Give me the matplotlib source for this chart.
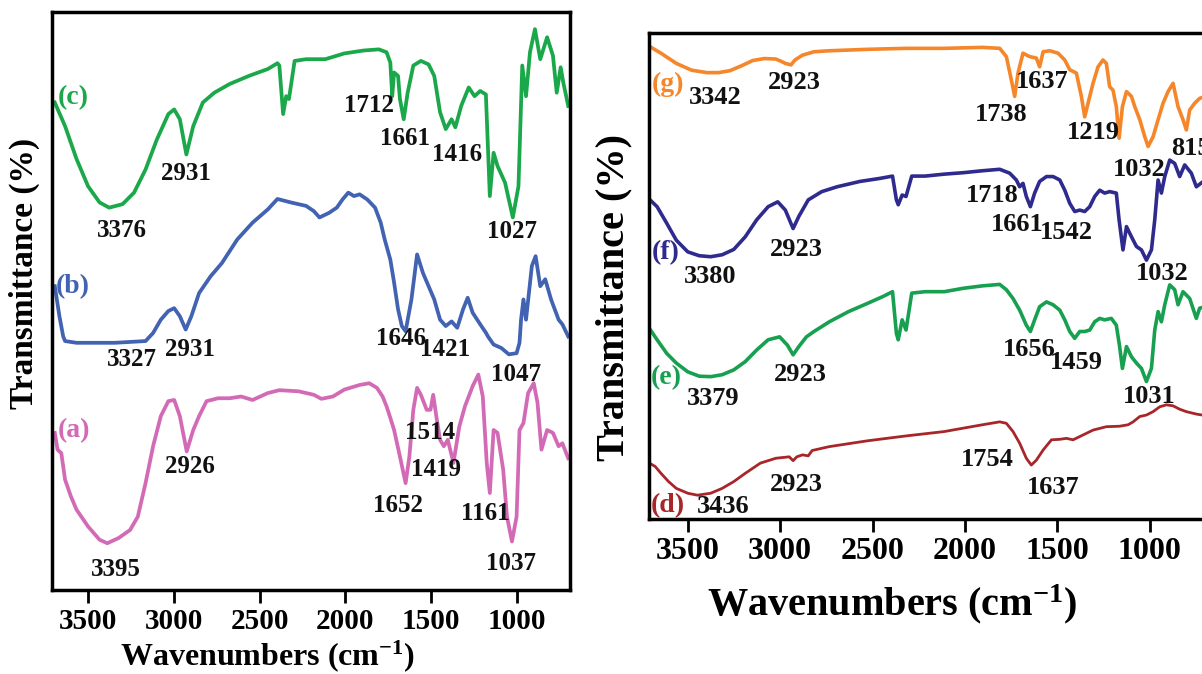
import matplotlib.pyplot as plt

plt.rcParams['font.family'] = ['Liberation Serif', 'DejaVu Serif']
plt.rcParams['font.weight'] = 'bold'
plt.rcParams['axes.labelweight'] = 'bold'
plt.rcParams['mathtext.fontset'] = 'custom'
plt.rcParams['mathtext.rm'] = 'Liberation Serif:bold'
plt.rcParams['mathtext.bf'] = 'Liberation Serif:bold'
plt.rcParams['mathtext.default'] = 'bf'

# ---- left panel spectra: wavenumber (cm-1) / transmittance (a.u.) ----
c_wn = [3694, 3634, 3567, 3500, 3433, 3377, 3299, 3232, 3165, 3099, 3032, 2998, 2965, 2927, 2887, 2831, 2764,
        2675, 2563, 2452, 2396, 2385, 2363, 2345, 2329, 2296, 2229, 2117, 2006, 1894, 1805, 1760, 1738, 1727,
        1716, 1693, 1682, 1660, 1637, 1604, 1560, 1515, 1482, 1448, 1415, 1381, 1359, 1325, 1281, 1247, 1214,
        1181, 1158, 1136, 1113, 1069, 1024, 991, 969, 947, 924, 895, 864, 824, 790, 768, 745, 730, 701]
c_T = [84.4, 80.3, 74.6, 69.9, 67.1, 66.2, 66.8, 68.8, 72.8, 78.0, 82.4, 83.2, 81.5, 75.4, 80.3, 84.4, 86.1,
       87.6, 89.0, 90.2, 91.2, 90.8, 82.4, 85.5, 85.0, 91.6, 91.9, 91.9, 92.9, 93.4, 93.6, 93.1, 91.3, 85.5,
       89.6, 89.0, 85.0, 81.5, 86.1, 90.8, 91.6, 91.0, 89.0, 82.7, 79.8, 81.5, 80.1, 83.8, 87.0, 85.5, 86.4,
       85.8, 68.2, 75.7, 73.4, 70.5, 64.5, 69.9, 90.8, 85.5, 93.1, 97.1, 91.9, 95.7, 92.5, 86.1, 90.5, 87.9, 83.8]

b_wn = [3694, 3667, 3645, 3634, 3567, 3344, 3165, 3121, 3076, 3032, 2998, 2965, 2931, 2898, 2853, 2786, 2720,
        2630, 2541, 2452, 2396, 2318, 2229, 2184, 2151, 2095, 2050, 2017, 1983, 1950, 1917, 1872, 1827, 1794,
        1771, 1738, 1716, 1693, 1671, 1649, 1615, 1582, 1548, 1515, 1482, 1448, 1415, 1381, 1348, 1314, 1287,
        1258, 1214, 1180, 1169, 1136, 1091, 1047, 1002, 985, 976, 962, 947, 913, 891, 864, 835, 801, 757, 735, 701]
b_T = [52.6, 47.4, 43.9, 43.1, 42.8, 42.8, 43.1, 44.5, 46.8, 48.3, 48.8, 47.4, 45.1, 47.4, 51.4, 54.3, 56.6,
       60.7, 63.6, 65.9, 67.7, 67.1, 66.5, 65.6, 64.5, 65.3, 66.2, 67.6, 68.8, 68.2, 68.5, 67.6, 66.2, 63.6,
       60.7, 57.2, 53.2, 48.6, 45.7, 44.8, 50.3, 58.1, 54.9, 52.6, 50.3, 46.8, 45.7, 46.5, 45.4, 48.6, 50.6,
       48.0, 46.0, 44.5, 43.9, 42.5, 41.9, 40.8, 41.0, 42.8, 46.8, 50.3, 46.8, 56.1, 57.8, 52.6, 53.8, 50.3,
       46.8, 46.0, 43.9]

a_wn = [3694, 3678, 3656, 3634, 3600, 3567, 3500, 3433, 3388, 3322, 3255, 3210, 3165, 3121, 3076, 3032, 2998,
        2965, 2925, 2887, 2853, 2809, 2742, 2675, 2608, 2541, 2452, 2385, 2273, 2184, 2140, 2073, 2006, 1917,
        1861, 1816, 1783, 1760, 1738, 1716, 1682, 1649, 1627, 1604, 1582, 1560, 1526, 1504, 1488, 1470, 1448,
        1426, 1403, 1370, 1336, 1303, 1258, 1225, 1199, 1176, 1158, 1136, 1113, 1080, 1058, 1029, 1002, 985,
        962, 935, 902, 880, 857, 824, 790, 757, 735, 701]
a_T = [27.2, 24.3, 23.7, 19.1, 16.2, 13.9, 11.0, 8.7, 8.1, 9.0, 10.4, 12.7, 18.5, 24.9, 30.1, 32.7, 32.9,
       30.1, 24.0, 27.7, 30.1, 32.7, 33.2, 33.2, 33.5, 32.9, 34.1, 34.6, 34.4, 33.8, 33.1, 33.5, 34.7, 35.5,
       35.8, 35.0, 33.5, 31.8, 29.8, 27.7, 23.1, 18.5, 23.1, 31.2, 35.0, 33.8, 31.2, 31.2, 33.8, 30.1, 26.0,
       24.9, 26.0, 22.0, 28.3, 31.8, 35.3, 37.3, 33.5, 22.0, 16.8, 27.7, 27.2, 20.8, 12.7, 8.4, 12.7, 27.7,
       28.9, 34.1, 35.8, 32.4, 24.3, 27.7, 27.2, 24.9, 25.4, 22.8]

# ---- right panel spectra ----
g_wn = [3707, 3645, 3562, 3479, 3396, 3334, 3272, 3210, 3148, 3086, 3024, 2993, 2972, 2941, 2920, 2879, 2817,
        2734, 2527, 2319, 2112, 1905, 1812, 1776, 1749, 1731, 1713, 1686, 1650, 1614, 1596, 1577, 1541, 1496,
        1460, 1433, 1397, 1370, 1352, 1334, 1307, 1280, 1253, 1235, 1217, 1199, 1181, 1166, 1148, 1126, 1099,
        1081, 1054, 1027, 1009, 982, 955, 928, 901, 874, 847, 820, 802, 784, 757, 730, 700]
g_T = [97.3, 95.9, 93.8, 92.4, 91.9, 91.9, 92.3, 93.3, 94.4, 94.8, 94.7, 94.2, 93.8, 93.5, 94.5, 95.5, 96.2,
       96.4, 96.7, 96.9, 96.9, 97.1, 96.9, 95.2, 90.4, 87.0, 91.8, 95.9, 95.2, 94.9, 93.1, 96.2, 96.4, 95.9,
       94.5, 92.5, 91.8, 87.0, 82.8, 85.6, 89.7, 93.1, 94.5, 93.8, 89.0, 88.3, 84.9, 78.4, 84.9, 88.0, 87.0,
       84.9, 82.2, 78.7, 76.7, 78.7, 82.2, 85.6, 88.0, 89.7, 84.9, 82.2, 80.1, 84.2, 85.6, 86.6, 87.0]

f_wn = [3707, 3666, 3614, 3562, 3500, 3438, 3376, 3314, 3251, 3189, 3127, 3065, 3013, 2972, 2930, 2899, 2848,
        2775, 2692, 2568, 2464, 2392, 2371, 2361, 2340, 2319, 2288, 2216, 2112, 2009, 1905, 1812, 1758, 1722,
        1704, 1686, 1668, 1646, 1623, 1596, 1559, 1523, 1487, 1460, 1433, 1406, 1379, 1352, 1325, 1298, 1271,
        1244, 1217, 1181, 1166, 1145, 1126, 1099, 1072, 1045, 1018, 991, 973, 955, 937, 919, 892, 865, 838,
        811, 775, 748, 700]
f_T = [65.8, 64.3, 60.9, 57.4, 55.0, 54.2, 54.0, 54.4, 55.5, 58.1, 61.6, 64.3, 65.3, 63.6, 59.8, 62.3, 65.7,
       67.4, 68.4, 69.5, 70.1, 70.6, 65.7, 64.7, 66.7, 66.4, 70.6, 70.6, 71.0, 71.3, 71.7, 72.0, 71.2, 69.8,
       68.4, 69.1, 66.4, 64.3, 67.1, 69.5, 70.5, 70.5, 69.8, 67.7, 65.0, 63.3, 63.6, 63.3, 64.3, 66.4, 67.7,
       67.1, 67.4, 67.1, 61.6, 55.4, 60.2, 58.1, 56.1, 55.4, 53.3, 55.4, 61.6, 69.8, 67.1, 70.5, 73.9, 73.2,
       70.5, 72.9, 71.2, 68.4, 69.8]

e_wn = [3707, 3666, 3614, 3562, 3500, 3438, 3376, 3314, 3251, 3189, 3127, 3065, 3003, 2961, 2930, 2899, 2858,
        2817, 2734, 2630, 2527, 2444, 2392, 2371, 2361, 2340, 2319, 2288, 2216, 2112, 2009, 1905, 1812, 1776,
        1740, 1704, 1668, 1646, 1623, 1596, 1559, 1523, 1487, 1460, 1433, 1406, 1379, 1352, 1325, 1298, 1271,
        1244, 1208, 1181, 1163, 1148, 1126, 1099, 1072, 1045, 1018, 991, 973, 955, 937, 919, 892, 865, 847,
        820, 784, 748, 730, 700]
e_T = [39.2, 36.9, 34.1, 32.1, 30.3, 29.4, 29.3, 29.7, 30.7, 32.4, 34.8, 36.9, 37.5, 35.8, 33.8, 35.5, 37.5,
       38.6, 40.6, 42.7, 44.4, 45.8, 46.8, 38.2, 36.9, 41.0, 38.9, 46.5, 46.8, 46.8, 47.5, 48.0, 48.3, 47.2,
       45.4, 43.0, 39.9, 38.6, 41.0, 43.7, 44.7, 44.1, 43.0, 41.0, 38.6, 37.2, 38.6, 38.6, 38.9, 40.6, 41.3,
       41.0, 41.3, 39.9, 35.5, 31.0, 35.5, 33.4, 32.1, 31.0, 28.3, 31.0, 38.9, 42.7, 40.6, 44.1, 48.2, 47.2,
       44.1, 46.8, 45.4, 41.3, 43.4, 43.7]

d_wn = [3707, 3676, 3645, 3604, 3562, 3500, 3448, 3376, 3314, 3251, 3189, 3107, 3024, 2951, 2930, 2910, 2879,
        2848, 2827, 2734, 2527, 2319, 2112, 2009, 1905, 1812, 1776, 1740, 1704, 1668, 1641, 1614, 1577, 1532,
        1487, 1451, 1415, 1361, 1307, 1235, 1163, 1117, 1090, 1054, 1018, 982, 946, 910, 874, 838, 802, 748, 700]
d_T = [11.5, 10.8, 9.4, 7.7, 6.3, 5.3, 4.9, 5.3, 6.3, 7.7, 9.4, 11.5, 12.5, 12.8, 12.0, 12.8, 13.2, 13.0,
       14.1, 14.9, 16.1, 17.1, 18.0, 18.7, 19.4, 20.0, 19.7, 18.0, 15.6, 12.5, 11.1, 12.1, 14.2, 16.3, 16.4,
       16.6, 16.3, 17.3, 18.3, 19.0, 19.1, 19.4, 20.0, 21.1, 21.4, 22.1, 23.1, 23.5, 23.3, 22.6, 22.1, 21.6, 21.3]

# ---- sample tags and peak annotations ----
left_tags = ['(c)', '(b)', '(a)']
left_tag_wn = [3589, 3589, 3583]
left_tag_T = [85.3, 52.6, 27.6]
left_colors = ['#1ba84b', '#4262b2', '#d36ab6']

left_peaks = ['3376', '2931', '1712', '1661', '1416', '1027',
              '3327', '2931', '1646', '1421', '1047',
              '3395', '2926', '1514', '1419', '1652', '1161', '1037']
left_peak_wn = [3304, 2931, 1861, 1653, 1348, 1029,
                3243, 2905, 1676, 1421, 1007,
                3337, 2905, 1504, 1470, 1694, 1185, 1036]
left_peak_T = [62.3, 72.1, 83.8, 78.2, 75.4, 62.1,
               39.9, 41.6, 43.5, 41.6, 37.3,
               3.5, 21.4, 27.2, 20.8, 14.7, 13.2, 4.6]

right_tags = ['(g)', '(f)', '(e)', '(d)']
right_tag_wn = [3608, 3620, 3614, 3608]
right_tag_T = [89.5, 54.8, 29.2, 2.7]
right_colors = ['#f5862a', '#2f2b8e', '#17a050', '#a8262a']

right_peaks = ['3342', '2923', '1738', '1637', '1219', '1032', '815',
               '3380', '2923', '1718', '1661', '1542', '1032',
               '3379', '2923', '1656', '1459', '1031',
               '3436', '2923', '1754', '1637']
right_peak_wn = [3351, 2926, 1802, 1584, 1305, 1056, 775,
                 3380, 2910, 1854, 1715, 1450, 932,
                 3365, 2891, 1653, 1398, 1004,
                 3309, 2910, 1880, 1522]
right_peak_T = [86.7, 89.9, 83.2, 90.1, 79.5, 72.0, 76.3,
                50.0, 55.5, 66.5, 60.7, 59.0, 50.6,
                24.8, 29.8, 34.9, 32.2, 25.3,
                2.5, 7.0, 12.3, 6.5]

XTICKS = [3500, 3000, 2500, 2000, 1500, 1000]
XLABEL = r'Wavenumbers (cm$^{-1}$)'
YLABEL = 'Transmittance (%)'


def style_axes(ax, tick_size, spine_w):
    ax.set_xlim(3710, 690)
    ax.set_ylim(0, 100)
    ax.set_xticks(XTICKS)
    ax.set_yticks([])
    for sp in ax.spines.values():
        sp.set_linewidth(spine_w)
    ax.tick_params(axis='x', direction='out', length=9, width=2, labelsize=tick_size, pad=4)


fig = plt.figure(figsize=(12.02, 6.74), dpi=100)

# left panel
ax1 = fig.add_axes([0.0433, 0.1246, 0.431, 0.857])
style_axes(ax1, 21, 2.5)
for wn, T, col in zip([c_wn, b_wn, a_wn], [c_T, b_T, a_T], left_colors):
    ax1.plot(wn, T, color=col, lw=2.7, solid_joinstyle='round')
for txt, x, y, col in zip(left_tags, left_tag_wn, left_tag_T, left_colors):
    ax1.text(x, y, txt, color=col, fontsize=20, ha='center', va='center')
for txt, x, y in zip(left_peaks, left_peak_wn, left_peak_T):
    ax1.text(x, y, txt, color='#111111', fontsize=18, ha='center', va='center')
ax1.set_xlabel(XLABEL, fontsize=23)
ax1.xaxis.set_label_coords(0.415, -0.083, transform=ax1.transAxes)
ax1.set_ylabel(YLABEL, fontsize=24)
ax1.yaxis.set_label_coords(-0.023, 0.548)

# right panel (runs off the right edge of the picture)
ax2 = fig.add_axes([0.5399, 0.2300, 0.4643, 0.7206])
style_axes(ax2, 23, 2.5)
for wn, T, col, lw in zip([g_wn, f_wn, e_wn, d_wn], [g_T, f_T, e_T, d_T], right_colors, [2.6, 2.6, 2.6, 2.0]):
    ax2.plot(wn, T, color=col, lw=lw, solid_joinstyle='round')
for txt, x, y, col in zip(right_tags, right_tag_wn, right_tag_T, right_colors):
    ax2.text(x, y, txt, color=col, fontsize=20, ha='center', va='center')
for txt, x, y in zip(right_peaks, right_peak_wn, right_peak_T):
    ax2.text(x, y, txt, color='#111111', fontsize=19, ha='center', va='center')
ax2.set_xlabel(XLABEL, fontsize=29)
ax2.xaxis.set_label_coords(0.435, -0.130, transform=ax2.transAxes)
ax2.set_ylabel(YLABEL, fontsize=29)
ax2.yaxis.set_label_coords(-0.030, 0.455)

fig.savefig('out.png', dpi=100)
